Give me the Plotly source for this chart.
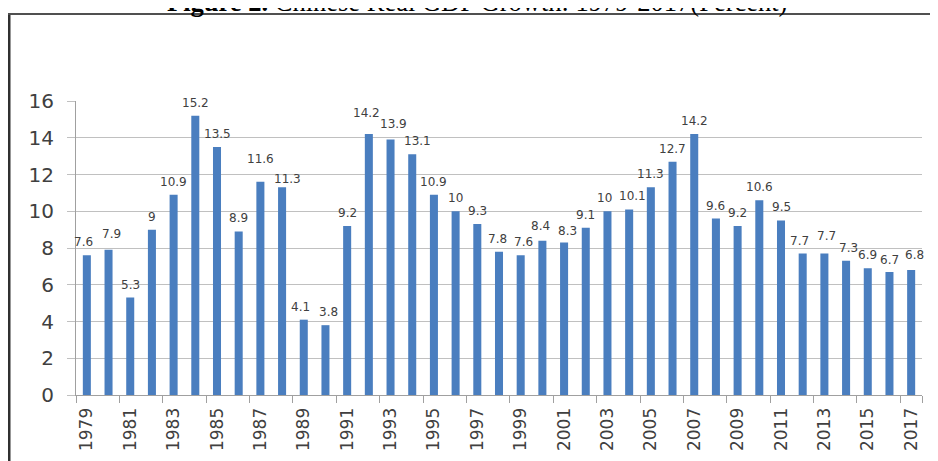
import plotly.graph_objects as go

years = [str(y) for y in range(1979, 2018)]
growth = [7.6, 7.9, 5.3, 9, 10.9, 15.2, 13.5, 8.9, 11.6, 11.3,
          4.1, 3.8, 9.2, 14.2, 13.9, 13.1, 10.9, 10, 9.3, 7.8,
          7.6, 8.4, 8.3, 9.1, 10, 10.1, 11.3, 12.7, 14.2, 9.6,
          9.2, 10.6, 9.5, 7.7, 7.7, 7.3, 6.9, 6.7, 6.8]
labels = [f"{v:g}" for v in growth]
xtick_labels = years[::2]
ytick_vals = [0, 2, 4, 6, 8, 10, 12, 14, 16]

# small label nudges (pixels) to keep neighbouring value labels apart
label_nudge = {
    "1979": (-3, 0), "1980": (3, 3), "1987": (0, 10), "1988": (5, -5),
    "1989": (-3, 0), "1990": (3, 0), "1992": (-2, 8), "1993": (3, 3),
    "1994": (5, 0), "1998": (-2, 0), "1999": (3, 0), "2000": (-2, 2),
    "2001": (3, -2), "2003": (-3, 0), "2004": (3, 0), "2012": (-3, 0),
    "2013": (2, 5), "2014": (2, 0), "2016": (0, -1), "2017": (3, 2),
}

OFF = 8  # page body margin offset in the screenshot
W, H = 938, 461
L, T = 76 - OFF, 101 - OFF
pw, ph = 846, 294
R, B = W - L - pw, H - T - ph

def px(xp):
    return (xp - OFF - L) / pw

def py(yp):
    return (T + ph - (yp - OFF)) / ph

fig = go.Figure()
fig.add_trace(go.Bar(
    x=years, y=growth,
    marker=dict(color="#4a7ebf", line=dict(width=0)),
    hovertext=labels,
))

for i, (yr, val, lab) in enumerate(zip(years, growth, labels)):
    dx, dy = label_nudge.get(yr, (0, 0))
    fig.add_annotation(
        x=i, y=val, text=lab, showarrow=False, xanchor="center", yanchor="bottom",
        xshift=dx, yshift=4 + dy,
        font=dict(family="DejaVu Sans", size=12, color="#404040"),
    )

fig.update_layout(
    width=W, height=H,
    margin=dict(l=L, r=R, t=T, b=B),
    paper_bgcolor="white", plot_bgcolor="white",
    bargap=0.63, showlegend=False,
    xaxis=dict(
        type="category", tickangle=-90, tickvals=xtick_labels, ticktext=xtick_labels,
        tickfont=dict(family="DejaVu Sans", size=17, color="#404040"),
        ticks="outside", tickson="boundaries", ticklen=7, tickcolor="#a0a0a0",
        ticklabelstandoff=5,
        showline=True, linecolor="#a0a0a0", linewidth=1, showgrid=False,
        automargin=False, range=[-0.5, len(years) - 0.5],
    ),
    yaxis=dict(
        range=[0, 16], tickvals=ytick_vals,
        tickfont=dict(family="DejaVu Sans", size=20, color="#404040"),
        showgrid=True, gridcolor="#c0c0c0", gridwidth=1,
        showline=True, linecolor="#a0a0a0", linewidth=1,
        ticks="outside", ticklen=8, tickcolor="#c0c0c0",
        ticklabelstandoff=9,
        zeroline=False, automargin=False,
    ),
)

# title, partially cut off at top as in the source image
fig.add_annotation(
    xref="paper", yref="paper", x=px(477), y=py(2), xanchor="center", yanchor="middle",
    text="<b>Figure 2.</b> Chinese Real GDP Growth: 1979-2017(Percent)",
    showarrow=False, font=dict(family="Liberation Serif", size=26.5, color="#000000"),
)

# outer frame
fig.add_shape(type="line", xref="paper", yref="paper",
              x0=px(9), x1=px(9), y0=py(475), y1=py(14),
              line=dict(color="#303030", width=3))
fig.add_shape(type="line", xref="paper", yref="paper",
              x0=px(8), x1=px(950), y0=py(14), y1=py(14),
              line=dict(color="#505050", width=2))

fig.write_html("out.html")
